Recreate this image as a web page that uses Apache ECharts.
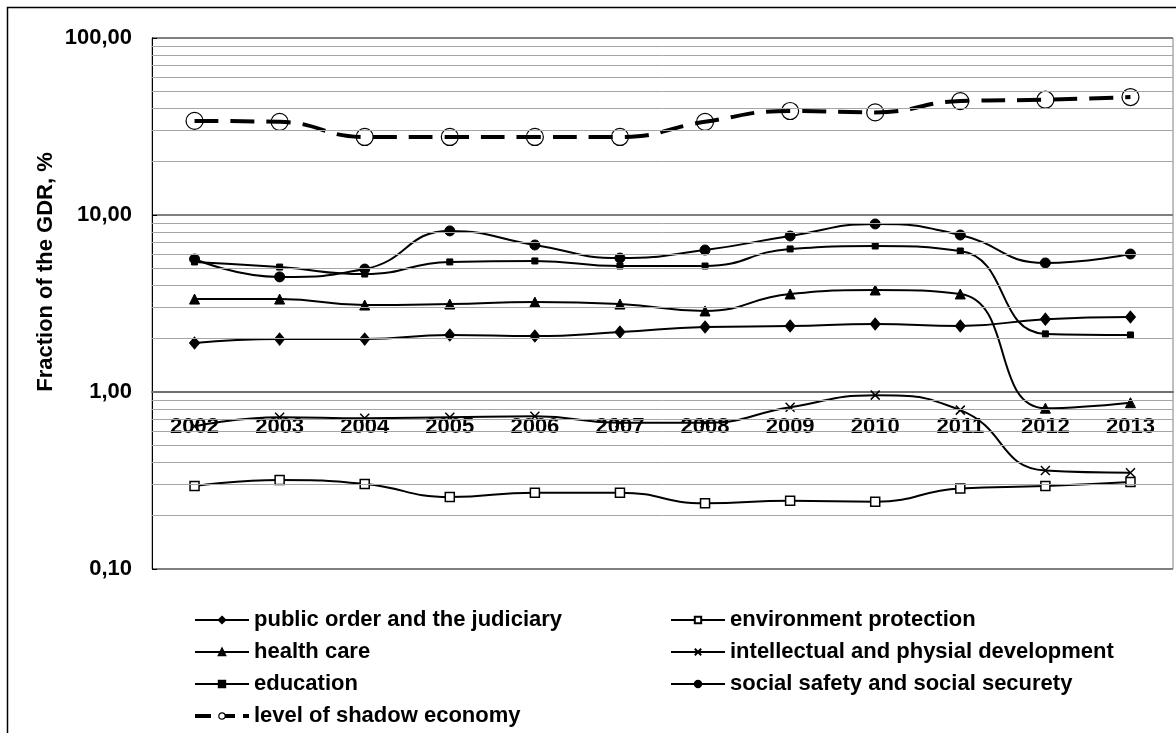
<!DOCTYPE html>
<html>
<head>
<meta charset="UTF-8">
<title>Fraction of the GDR</title>
<script type="text/javascript" src="https://cdn.jsdelivr.net/npm/echarts@6/dist/echarts.min.js"></script>
<style type="text/css">
	html, body { margin:0; padding:0; background:#fff; }
	#main { width:1176px; height:733px; }
</style>
</head>
<body>
<div id="main"></div>
<script type="text/javascript">
	var years = ['2002','2003','2004','2005','2006','2007','2008','2009','2010','2011','2012','2013'];
	var publicOrder = [1.89, 1.99, 1.99, 2.10, 2.07, 2.18, 2.33, 2.36, 2.42, 2.36, 2.58, 2.65];
	var environment = [0.294, 0.318, 0.302, 0.255, 0.270, 0.270, 0.235, 0.243, 0.240, 0.285, 0.294, 0.310];
	var healthCare = [3.35, 3.35, 3.10, 3.14, 3.22, 3.14, 2.87, 3.58, 3.77, 3.58, 0.81, 0.87];
	var intellectual = [0.64, 0.72, 0.71, 0.72, 0.73, 0.67, 0.67, 0.82, 0.96, 0.79, 0.36, 0.35];
	var education = [5.43, 5.08, 4.64, 5.43, 5.50, 5.15, 5.15, 6.43, 6.68, 6.26, 2.13, 2.10];
	var socialSafety = [5.64, 4.47, 4.95, 8.13, 6.77, 5.71, 6.34, 7.61, 8.90, 7.71, 5.36, 6.02];
	var shadowEconomy = [34.0, 33.6, 27.6, 27.6, 27.6, 27.6, 33.6, 38.7, 38.0, 44.0, 44.8, 46.4];
	// minor grid lines 2..9 of every decade
	var minorTicks = [0.2,0.3,0.4,0.5,0.6,0.7,0.8,0.9, 2,3,4,5,6,7,8,9, 20,30,40,50,60,70,80,90];

	var FONT = '"Liberation Sans", Arial, sans-serif';
	var crossPath = 'path://M0,0L10,10M10,0L0,10';

	function solid(name, data, symbol, size, fill){
		return {
			name: name,
			type: 'line',
			data: data,
			smooth: 0.5,
			symbol: symbol,
			symbolSize: size,
			showAllSymbol: true,
			lineStyle: { color: '#000', width: 2 },
			itemStyle: { color: fill || '#000', borderColor: '#000', borderWidth: fill ? 1.5 : 1 },
			z: 3
		};
	}

	var series = [
		{
			name: 'grid',
			type: 'line',
			data: [],
			silent: true,
			markLine: {
				silent: true,
				symbol: 'none',
				label: { show: false },
				lineStyle: { color: '#a6a6a6', width: 1, type: 'solid' },
				data: minorTicks.map(function(v){ return { yAxis: v }; })
			},
			z: 1
		},
		solid('public order and the judiciary', publicOrder, 'diamond', [10, 12]),
		solid('environment protection', environment, 'rect', 9, '#fff'),
		solid('health care', healthCare, 'triangle', 10),
		solid('intellectual and physial development', intellectual, crossPath, 9, 'rgba(0,0,0,0)'),
		solid('education', education, 'rect', 6),
		solid('social safety and social securety', socialSafety, 'circle', 10),
		{
			name: 'level of shadow economy',
			type: 'line',
			data: shadowEconomy,
			smooth: 0.5,
			symbol: 'circle',
			symbolSize: 17,
			lineStyle: { color: '#000', width: 4, type: [24, 12] },
			itemStyle: { color: 'rgba(255,255,255,0)', borderColor: '#000', borderWidth: 1.2 },
			z: 3
		}
	];

	var legendText = { fontFamily: FONT, fontSize: 22, fontWeight: 'bold', color: '#000' };

	var chart = echarts.init(document.getElementById('main'));
	var option = {
		animation: false,
		backgroundColor: '#fff',
		grid: {
			left: 152, right: 3, top: 38, bottom: 164,
			show: true, borderColor: '#808080', borderWidth: 1
		},
		graphic: [
			{
				type: 'rect',
				shape: { x: 7.5, y: 7.5, width: 1400, height: 1000 },
				style: { fill: 'none', stroke: '#000', lineWidth: 1.5 },
				silent: true
			},
			{
				type: 'text',
				x: 46, y: 272,
				rotation: Math.PI / 2,
				style: {
					text: 'Fraction of the GDR, %',
					font: 'bold 22px ' + FONT,
					fill: '#000',
					align: 'center',
					verticalAlign: 'middle'
				}
			}
		],
		legend: [
			{
				orient: 'vertical',
				left: 193, top: 609, height: 124,
				padding: 0,
				itemWidth: 54, itemHeight: 8, itemGap: 10,
				textStyle: legendText,
				lineStyle: { width: 2 },
				data: [
					'public order and the judiciary', 'health care', 'education',
					{
						name: 'level of shadow economy',
						itemStyle: { color: '#fff', borderColor: '#000', borderWidth: 1.2 },
						lineStyle: { color: '#000', width: 4, type: [16, 8] }
					}
				]
			},
			{
				orient: 'vertical',
				left: 670, top: 609, height: 124,
				padding: 0,
				itemWidth: 54, itemHeight: 8, itemGap: 10,
				textStyle: legendText,
				lineStyle: { width: 2 },
				data: ['environment protection', 'intellectual and physial development', 'social safety and social securety']
			}
		],
		xAxis: {
			type: 'category',
			data: years,
			boundaryGap: true,
			offset: -177,
			axisLine: { lineStyle: { color: '#707070', width: 2 } },
			axisTick: { inside: true, length: 6, lineStyle: { color: '#404040' } },
			axisLabel: { margin: 24, fontFamily: FONT, fontSize: 22, fontWeight: 'bold', color: '#000' },
			splitLine: { show: false },
			z: 2
		},
		yAxis: {
			type: 'log',
			logBase: 10,
			min: 0.1,
			max: 100,
			axisLine: { show: true, lineStyle: { color: '#000', width: 1 } },
			axisTick: { show: true, inside: true, length: 5, lineStyle: { color: '#000' } },
			axisLabel: {
				margin: 20,
				fontFamily: FONT, fontSize: 22, fontWeight: 'bold', color: '#000',
				formatter: function(v){ return Number(v).toFixed(2).replace('.', ','); }
			},
			splitLine: { show: true, lineStyle: { color: '#808080', width: 2 } }
		},
		series: series
	};
	chart.setOption(option, true);
</script>
</body>
</html>
